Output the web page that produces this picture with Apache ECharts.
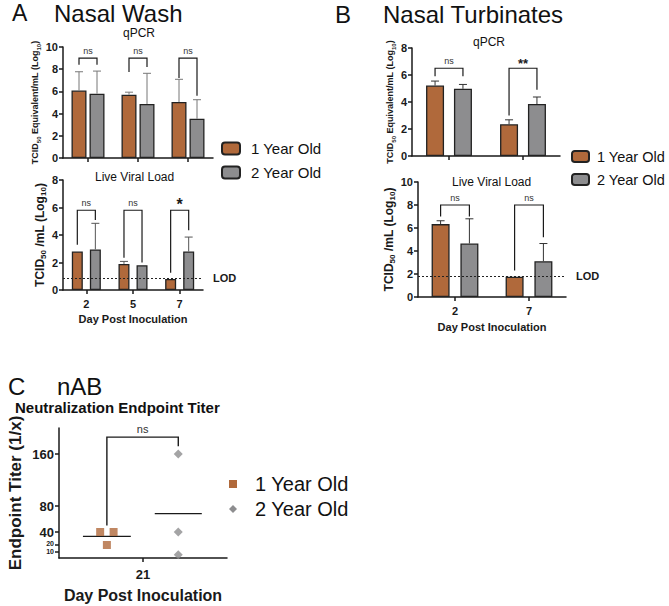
<!DOCTYPE html>
<html><head><meta charset="utf-8">
<script src="https://cdn.jsdelivr.net/npm/echarts@6/dist/echarts.min.js"></script>
<style>html,body{margin:0;padding:0;background:#fff}#c{width:669px;height:606px}</style>
</head><body><div id="c"></div>
<script>
const FONT = "'Liberation Sans', Arial, sans-serif";
const BROWN = '#B0693B', GRAY = '#8D8D8F', INK = '#1a1a1a';
const groups = ['1 Year Old', '2 Year Old'];

// Panel A – Nasal Wash, qPCR
const aDays = ['2', '5', '7'];
const aQ1 = [6.08, 5.7, 5.04];
const aQ1Up = [7.77, 5.93, 7.09];
const aQ2 = [5.79, 4.87, 3.53];
const aQ2Up = [7.83, 7.63, 5.25];
const aQSig = ['ns', 'ns', 'ns'];
const aQBr = [[9.0, 8.4, 8.4], [9.0, 7.75, 8.2], [9.0, 7.2, 5.6]]; // bracket top, left end, right end

// Panel A – Nasal Wash, live viral load
const aL1 = [2.8, 1.9, 0.8];
const aL1Up = [null, 2.08, null];
const aL2 = [2.95, 1.8, 2.8];
const aL2Up = [4.85, null, 3.85];
const aLSig = ['ns', 'ns', '*'];
const aLBr = [[5.8, 3.3, 5.1], [5.8, 2.35, 2.0], [5.8, 1.25, 4.35]];
const aLOD = 0.85;

// Panel B – Nasal Turbinates, qPCR
const bDays = ['2', '7'];
const bQ1 = [5.22, 2.35];
const bQ1Up = [5.55, 2.68];
const bQ2 = [4.98, 3.85];
const bQ2Up = [5.3, 4.37];
const bQSig = ['ns', '**'];
const bQBr = [[6.5, 5.9, 5.9], [6.5, 3.0, 4.9]];

// Panel B – Nasal Turbinates, live viral load
const bL1 = [6.34, 1.76];
const bL1Up = [6.63, null];
const bL2 = [4.65, 3.11];
const bL2Up = [6.8, 4.65];
const bLSig = ['ns', 'ns'];
const bLBr = [[8.0, 7.0, 7.0], [8.0, 2.3, 5.2]];
const bLOD = 1.8;

// Panel C – nAB endpoint titer (day 21)
const cDay = '21';
const cGroupX = [-0.43, 0.42];
const c1 = [40, 40, 20];
const c1Jit = [-0.08, 0.08, 0];
const c2 = [160, 40, 5];
const c2Jit = [0, 0, 0];
const cTicks = [20, 40, 80, 160];
const cTicksLow = [10];
const cBr = [186, 50, 172];
const cSig = 'ns';

const mean = a => a.reduce((s, v) => s + v, 0) / a.length;

const axisLineStyle = { color: INK, width: 1.5 };
const tickLbl = { fontSize: 11, fontWeight: 'bold', color: INK, fontFamily: FONT };

function yAx(grid, max, interval, name, nameGap, nameSize) {
  return {
    type: 'value', gridIndex: grid, min: 0, max, interval,
    name, nameLocation: 'middle', nameRotate: 90, nameGap,
    nameTextStyle: {
      fontSize: nameSize, fontWeight: 'bold', color: INK, fontFamily: FONT,
      rich: { sub: { fontSize: Math.round(nameSize * 0.65), fontWeight: 'bold', color: INK, fontFamily: FONT, verticalAlign: 'bottom', padding: [0, 0, -2, 0] } }
    },
    axisLine: { show: true, onZero: false, lineStyle: axisLineStyle },
    axisTick: { show: true, length: 4, lineStyle: axisLineStyle },
    axisLabel: Object.assign({ margin: 5 }, tickLbl),
    splitLine: { show: false }
  };
}
function xAx(grid, data, showLabels, name, nameGap) {
  return {
    type: 'category', gridIndex: grid, data,
    axisLine: { show: true, onZero: false, lineStyle: axisLineStyle },
    axisTick: { show: true, alignWithLabel: true, interval: 0, length: 4, lineStyle: axisLineStyle },
    axisLabel: Object.assign({ show: showLabels, margin: 8 }, tickLbl),
    name, nameLocation: 'middle', nameGap: nameGap || 20,
    nameTextStyle: { fontSize: 11, fontWeight: 'bold', color: INK, fontFamily: FONT }
  };
}

function bars(grid, d1, d2, w, gap, lod) {
  const base = { type: 'bar', xAxisIndex: grid, yAxisIndex: grid, barWidth: w, barGap: (gap * 100) + '%', z: 2,
    itemStyle: { borderColor: '#222', borderWidth: 1.3 } };
  const s1 = Object.assign({}, base, { name: groups[0], data: d1, itemStyle: Object.assign({}, base.itemStyle, { color: BROWN }) });
  const s2 = Object.assign({}, base, { name: groups[1], data: d2, itemStyle: Object.assign({}, base.itemStyle, { color: GRAY }) });
  if (lod != null) {
    s2.markLine = { symbol: 'none', silent: true, animation: false,
      lineStyle: { type: [2, 2], color: '#222', width: 1 },
      label: { formatter: 'LOD', position: 'end', distance: 10, fontSize: 11, fontWeight: 'bold', color: INK, fontFamily: FONT },
      data: [{ yAxis: lod }] };
  }
  return [s1, s2];
}

function errSeries(grid, vals, ups, offset, color) {
  const data = [];
  vals.forEach((v, i) => { if (ups[i] != null) data.push([i, v, ups[i]]); });
  return {
    type: 'custom', xAxisIndex: grid, yAxisIndex: grid, z: 3, silent: true, data,
    renderItem: (p, api) => {
      const b = api.coord([api.value(0), api.value(1)]);
      const t = api.coord([api.value(0), api.value(2)]);
      const x = b[0] + offset, cap = 4;
      return { type: 'group', children: [
        { type: 'line', shape: { x1: x, y1: b[1], x2: x, y2: t[1] }, style: { stroke: color, lineWidth: 1 } },
        { type: 'line', shape: { x1: x - cap, y1: t[1], x2: x + cap, y2: t[1] }, style: { stroke: color, lineWidth: 1 } }
      ] };
    }
  };
}

function sigFont(s) {
  if (s === 'ns') return { fontSize: 9, fontWeight: 'normal', fill: '#333' };
  if (s === '*') return { fontSize: 16, fontWeight: 'bold', fill: INK };
  return { fontSize: 13, fontWeight: 'bold', fill: INK };
}
function bracketSeries(grid, br, sig, off) {
  return {
    type: 'custom', xAxisIndex: grid, yAxisIndex: grid, z: 4, silent: true, clip: false,
    data: br.map((b, i) => [i, b[0], b[1], b[2]]),
    renderItem: (p, api) => {
      const c = api.coord([api.value(0), api.value(1)]);
      const l = api.coord([api.value(0), api.value(2)]);
      const r = api.coord([api.value(0), api.value(3)]);
      const xl = c[0] - off, xr = c[0] + off;
      const s = sig[p.dataIndex];
      const f = sigFont(s);
      return { type: 'group', children: [
        { type: 'polyline', shape: { points: [[xl, l[1]], [xl, c[1]], [xr, c[1]], [xr, r[1]]] }, style: { stroke: INK, lineWidth: 1.2, fill: null } },
        { type: 'text', x: c[0], y: c[1] - (s === 'ns' ? 3 : -2), style: Object.assign({ text: s, align: 'center', verticalAlign: 'bottom', fontFamily: FONT }, f) }
      ] };
    }
  };
}

// bar layout (width, gap fraction) per plot
const LA = { w: 15, g: 0.2 }, LAL = { w: 11, g: 0.64 }, LB = { w: 18, g: 0.55 }, LBL = { w: 18, g: 0.6 };
const off = L => (L.w + L.w * L.g) / 2;

const titleStyle = (size, bold) => ({ fontSize: size, fontWeight: bold ? 'bold' : 'normal', color: '#111', fontFamily: FONT });
const titles = [
  ['A', 12, 1, 23, false], ['Nasal Wash', 54, 1, 24, false], ['qPCR', 123, 27, 12, false], ['Live Viral Load', 95, 171, 12, false],
  ['B', 335, 2, 24, false], ['Nasal Turbinates', 383, 2, 24, false], ['qPCR', 473, 36, 12, false], ['Live Viral Load', 452, 176, 12, false],
  ['C', 8, 374, 24, false], ['nAB', 57, 374, 24, false], ['Neutralization Endpoint Titer', 15, 400, 15, true]
].map(t => ({ text: t[0], left: t[1], top: t[2], padding: 0, textStyle: titleStyle(t[3], t[4]) }));

const legendText = (size, pad) => ({ fontSize: size, color: '#111', fontFamily: FONT, padding: [0, 0, 0, pad] });

const cYLabel = (vals, size) => Object.assign({ margin: 5, hideOverlap: false, customValues: vals }, tickLbl, { fontSize: size });

const option = {
  animation: false,
  backgroundColor: '#fff',
  title: titles,
  legend: [
    { data: groups, left: 221, top: 141, padding: 0, orient: 'vertical', itemWidth: 18, itemHeight: 12, itemGap: 9, selectedMode: false, textStyle: legendText(15, 6) },
    { data: groups, left: 571, top: 149, padding: 0, orient: 'vertical', itemWidth: 17, itemHeight: 11, itemGap: 8, selectedMode: false, textStyle: legendText(14.5, 3) },
    { data: [{ name: groups[0], icon: 'rect', itemStyle: { color: BROWN, borderWidth: 0 } }, { name: groups[1], icon: 'diamond', itemStyle: { color: GRAY, borderWidth: 0 } }],
      left: 229, top: 474, padding: 0, orient: 'vertical', itemWidth: 8, itemHeight: 8, itemGap: 5, selectedMode: false, textStyle: legendText(20, 13) }
  ],
  grid: [
    { left: 63, top: 47, width: 150, height: 111 },
    { left: 63, top: 180, width: 140, height: 110 },
    { left: 412, top: 48, width: 148, height: 108 },
    { left: 418, top: 182, width: 148, height: 115 },
    { left: 59, top: 428, width: 168, height: 130 }
  ],
  xAxis: [
    xAx(0, aDays, false, ''),
    xAx(1, aDays, true, 'Day Post Inoculation', 23),
    xAx(2, bDays, false, ''),
    xAx(3, bDays, true, 'Day Post Inoculation', 24),
    { type: 'value', gridIndex: 4, min: -1, max: 1,
      axisLine: { show: true, onZero: false, lineStyle: axisLineStyle },
      axisTick: { show: true, length: 4, customValues: [0], lineStyle: axisLineStyle },
      axisLabel: Object.assign({ margin: 10, customValues: [0], formatter: () => cDay }, tickLbl, { fontSize: 13 }),
      splitLine: { show: false },
      name: 'Day Post Inoculation', nameLocation: 'middle', nameGap: 29,
      nameTextStyle: { fontSize: 16, fontWeight: 'bold', color: INK, fontFamily: FONT } }
  ],
  yAxis: [
    yAx(0, 10, 2, 'TCID{sub|50} Equivalent/mL (Log{sub|10})', 19, 9),
    yAx(1, 8, 2, 'TCID{sub|50} /mL (Log{sub|10})', 16, 12),
    yAx(2, 8, 2, 'TCID{sub|50} Equivalent/mL (Log{sub|10})', 13, 9),
    yAx(3, 10, 2, 'TCID{sub|50} /mL (Log{sub|10})', 16, 12),
    { type: 'value', gridIndex: 4, min: 0, max: 200,
      axisLine: { show: true, onZero: false, lineStyle: axisLineStyle },
      axisTick: { show: true, length: 4, customValues: cTicks, lineStyle: axisLineStyle },
      axisLabel: Object.assign(cYLabel(cTicks, 13), { formatter: v => (v <= 20 ? '{s|' + v + '}' : String(v)),
        rich: { s: { fontSize: 7, fontWeight: 'bold', color: INK, fontFamily: FONT, padding: [0, 0, 3, 0] } } }),
      splitLine: { show: false },
      name: 'Endpoint Titer (1/x)', nameLocation: 'middle', nameRotate: 90, nameGap: 35,
      nameTextStyle: { fontSize: 17, fontWeight: 'bold', color: INK, fontFamily: FONT } },
    { type: 'value', gridIndex: 4, min: 0, max: 200, position: 'left', offset: 0,
      axisLine: { show: false, onZero: false },
      axisTick: { show: true, length: 4, customValues: cTicksLow, lineStyle: axisLineStyle },
      axisLabel: Object.assign(cYLabel(cTicksLow, 7), { padding: [3, 0, 0, 0] }),
      splitLine: { show: false } }
  ],
  series: [
    ...bars(0, aQ1, aQ2, LA.w, LA.g),
    errSeries(0, aQ1, aQ1Up, -off(LA), '#777'), errSeries(0, aQ2, aQ2Up, off(LA), '#777'),
    bracketSeries(0, aQBr, aQSig, off(LA)),
    ...bars(1, aL1, aL2, LAL.w, LAL.g, aLOD),
    errSeries(1, aL1, aL1Up, -off(LAL), '#555'), errSeries(1, aL2, aL2Up, off(LAL), '#555'),
    bracketSeries(1, aLBr, aLSig, off(LAL)),
    ...bars(2, bQ1, bQ2, LB.w, LB.g),
    errSeries(2, bQ1, bQ1Up, -off(LB), '#333'), errSeries(2, bQ2, bQ2Up, off(LB), '#333'),
    bracketSeries(2, bQBr, bQSig, off(LB)),
    ...bars(3, bL1, bL2, LBL.w, LBL.g, bLOD),
    errSeries(3, bL1, bL1Up, -off(LBL), '#333'), errSeries(3, bL2, bL2Up, off(LBL), '#333'),
    bracketSeries(3, bLBr, bLSig, off(LBL)),
    { type: 'scatter', name: groups[0], xAxisIndex: 4, yAxisIndex: 4, symbol: 'rect', symbolSize: 8, z: 3,
      itemStyle: { color: BROWN }, data: c1.map((v, i) => [cGroupX[0] + c1Jit[i], v]) },
    { type: 'scatter', name: groups[1], xAxisIndex: 4, yAxisIndex: 4, symbol: 'diamond', symbolSize: 9, z: 3,
      itemStyle: { color: GRAY }, data: c2.map((v, i) => [cGroupX[1] + c2Jit[i], v]) },
    { type: 'line', xAxisIndex: 4, yAxisIndex: 4, symbol: 'none', silent: true, z: 2, lineStyle: { color: INK, width: 1.3 },
      data: [[cGroupX[0] - 0.285, mean(c1)], [cGroupX[0] + 0.285, mean(c1)]] },
    { type: 'line', xAxisIndex: 4, yAxisIndex: 4, symbol: 'none', silent: true, z: 2, lineStyle: { color: INK, width: 1.3 },
      data: [[cGroupX[1] - 0.28, mean(c2)], [cGroupX[1] + 0.28, mean(c2)]] },
    { type: 'custom', xAxisIndex: 4, yAxisIndex: 4, z: 4, silent: true, clip: false,
      data: [[cGroupX[0], cGroupX[1], cBr[0], cBr[1], cBr[2]]],
      renderItem: (p, api) => {
        const tl = api.coord([api.value(0), api.value(2)]);
        const tr = api.coord([api.value(1), api.value(2)]);
        const l = api.coord([api.value(0), api.value(3)]);
        const r = api.coord([api.value(1), api.value(4)]);
        return { type: 'group', children: [
          { type: 'polyline', shape: { points: [[l[0], l[1]], [tl[0], tl[1]], [tr[0], tr[1]], [r[0], r[1]]] }, style: { stroke: INK, lineWidth: 1.4, fill: null } },
          { type: 'text', x: (tl[0] + tr[0]) / 2, y: tl[1] - 3, style: { text: cSig, align: 'center', verticalAlign: 'bottom', fontSize: 11, fill: '#333', fontFamily: FONT } }
        ] };
      } }
  ]
};

const chart = echarts.init(document.getElementById('c'), null, { renderer: 'svg', width: 669, height: 606 });
chart.setOption(option);
</script>
</body></html>
